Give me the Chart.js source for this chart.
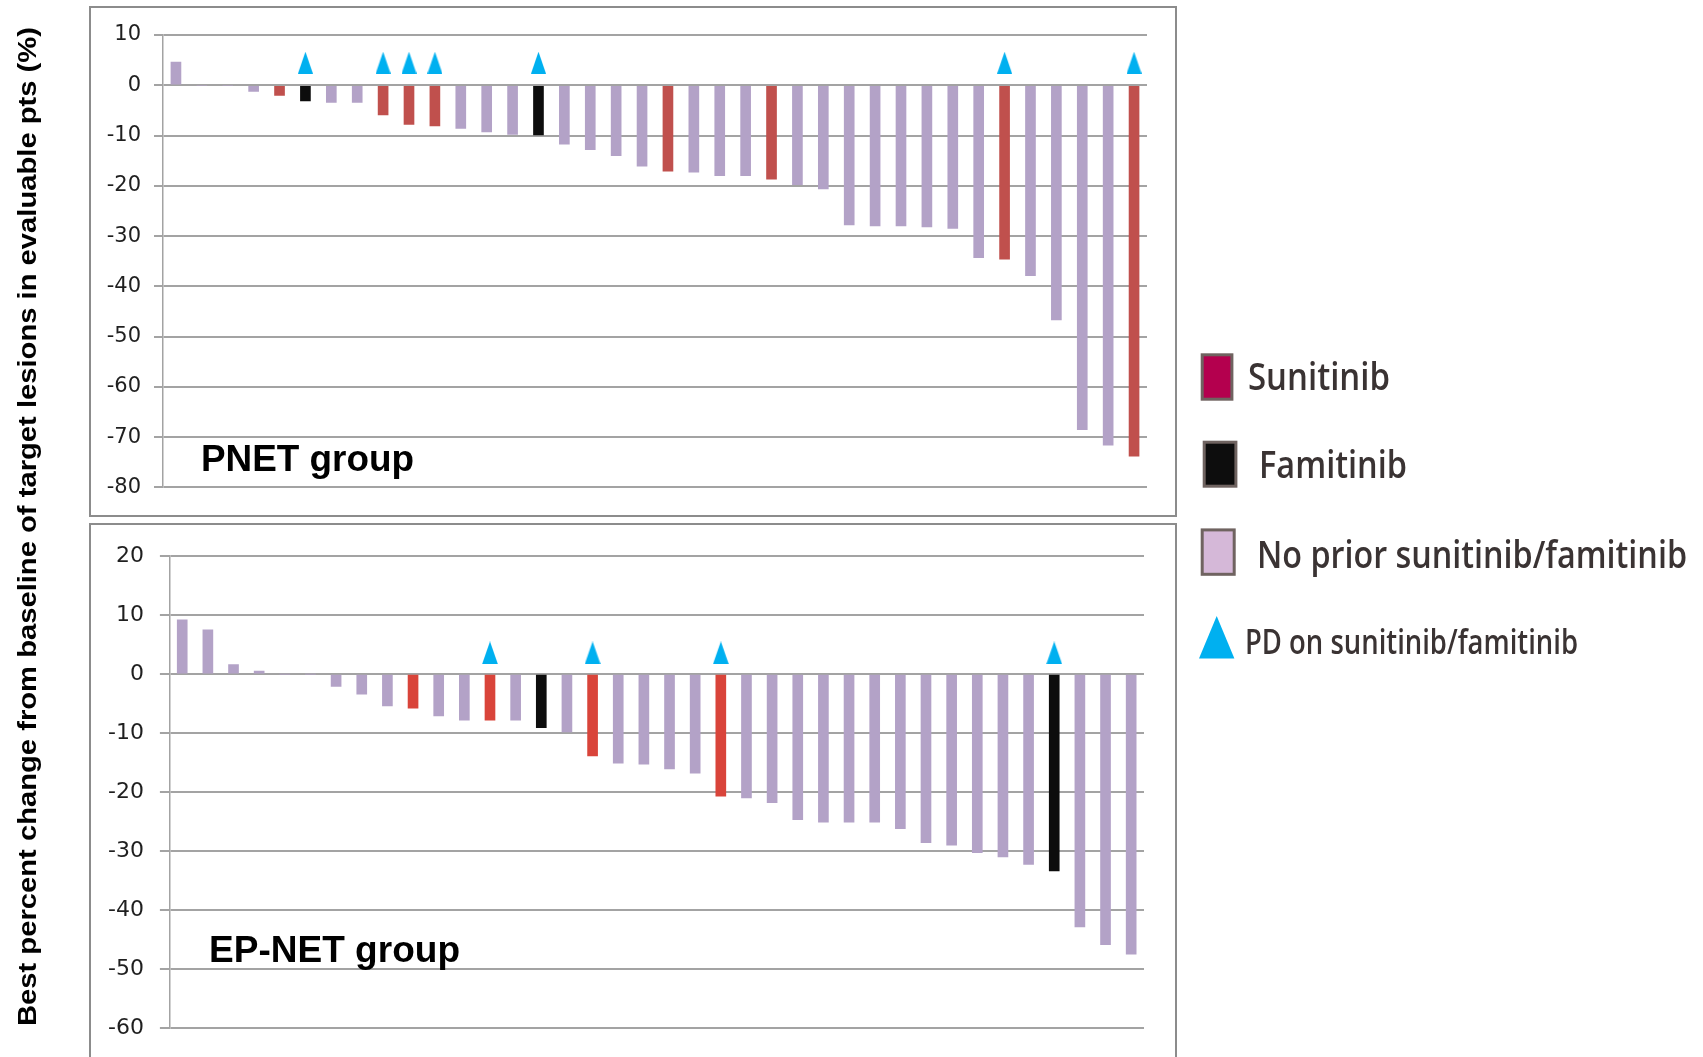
<!DOCTYPE html>
<html>
<head>
<meta charset="utf-8">
<script src="https://cdn.jsdelivr.net/npm/chart.js@4.4.1/dist/chart.umd.min.js"></script>
<style>
  html, body { margin: 0; padding: 0; background: #fff; width: 1703px; height: 1057px; overflow: hidden; position: relative; }
  .panel { position: absolute; box-sizing: border-box; border: 2.5px solid #8c8c8c; background: #fff; }
  canvas { position: absolute; display: block; }
</style>
</head>
<body>
<div class="panel" style="left:89px;top:6px;width:1088px;height:511px"></div>
<div class="panel" style="left:89px;top:523px;width:1088px;height:560px"></div>
<canvas id="pnet" width="1080" height="504" style="left:92px;top:9px"></canvas>
<canvas id="epnet" width="1080" height="530" style="left:92px;top:527px"></canvas>
<canvas id="overlay" width="1703" height="1057" style="left:0;top:0;pointer-events:none"></canvas>

<script>
// ---- PNET group: best % change per patient, sorted ----
const pnetChange = [4.6, 0, 0, -1.2, -2.0, -3.1, -3.4, -3.4, -5.9, -7.8, -8.1, -8.6, -9.3, -9.8, -9.9,
  -11.7, -12.8, -14.0, -16.1, -17.1, -17.3, -18.0, -18.0, -18.7, -19.8, -20.6, -27.8, -28.0, -28.0,
  -28.2, -28.5, -34.3, -34.6, -37.9, -46.7, -68.5, -71.6, -73.8];
// prior therapy: S = sunitinib, F = famitinib, N = none
const pnetPrior = ['N','N','N','N','S','F','N','N','S','S','S','N','N','N','F',
  'N','N','N','N','S','N','N','N','S','N','N','N','N','N',
  'N','N','N','S','N','N','N','N','S'];
// progressive disease on prior sunitinib/famitinib
const pnetPD = [0,0,0,0,0,1,0,0,1,1,1,0,0,0,1,
  0,0,0,0,0,0,0,0,0,0,0,0,0,0,
  0,0,0,1,0,0,0,0,1];
const pnetTicks = { min: -80, max: 10, step: 10 };

// ---- EP-NET group ----
const epnetChange = [9.2, 7.5, 1.6, 0.5, 0, 0, -2.1, -3.4, -5.4, -5.8, -7.1, -7.8, -7.8, -7.8, -9.1,
  -9.8, -13.9, -15.1, -15.3, -16.1, -16.8, -20.7, -21.0, -21.8, -24.7, -25.1, -25.1, -25.1, -26.2,
  -28.6, -29.0, -30.3, -31.0, -32.3, -33.4, -42.9, -45.9, -47.5];
const epnetPrior = ['N','N','N','N','N','N','N','N','N','S','N','N','S','N','F',
  'N','S','N','N','N','N','S','N','N','N','N','N','N','N',
  'N','N','N','N','N','F','N','N','N'];
const epnetPD = [0,0,0,0,0,0,0,0,0,0,0,0,1,0,0,
  0,1,0,0,0,0,1,0,0,0,0,0,0,0,
  0,0,0,0,0,1,0,0,0];
const epnetTicks = { min: -60, max: 20, step: 10 };

const legendItems = ['Sunitinib', 'Famitinib', 'No prior sunitinib/famitinib', 'PD on sunitinib/famitinib'];
const yTitle = 'Best percent change from baseline of target lesions in evaluable pts (%)';

// ---- styling ----
const PURPLE = '#B3A2C7', BLACK = '#0D0D0D', BLUE = '#00B0F0';
const GRID = '#a3a3a3';

function makeTriangle(w, h, color) {
  const c = document.createElement('canvas');
  c.width = w; c.height = h;
  const g = c.getContext('2d');
  g.fillStyle = color;
  g.beginPath();
  g.moveTo(w / 2, 0);
  g.lineTo(w, h);
  g.lineTo(0, h);
  g.closePath();
  g.fill();
  return c;
}

function buildChart(id, values, prior, pd, ticks, cfg) {
  const colors = { S: cfg.red, F: BLACK, N: PURPLE };
  return new Chart(document.getElementById(id), {
    type: 'bar',
    data: {
      labels: values.map((_, i) => 'Pt ' + (i + 1)),
      datasets: [
        {
          type: 'line',
          data: pd.map(f => (f ? cfg.markerLevel : null)),
          showLine: false,
          pointStyle: makeTriangle(cfg.triW, cfg.triH, BLUE),
          pointRadius: 10,
          order: 0
        },
        {
          type: 'bar',
          data: values,
          backgroundColor: prior.map(p => colors[p]),
          borderWidth: 0,
          barThickness: 10,
          order: 1
        }
      ]
    },
    options: {
      responsive: false,
      animation: false,
      devicePixelRatio: 1,
      layout: { padding: cfg.padding },
      plugins: { legend: { display: false }, tooltip: { enabled: false } },
      scales: {
        x: { display: false, offset: true },
        y: {
          min: ticks.min, max: ticks.max,
          ticks: {
            stepSize: ticks.step,
            padding: cfg.tickPad,
            color: '#1f1f1f',
            font: { family: '"DejaVu Sans", sans-serif', size: cfg.tickSize }
          },
          grid: { color: GRID, lineWidth: 2, tickLength: cfg.tickLen },
          border: { color: GRID, width: 1.5 },
          afterFit: s => { s.width = cfg.axisWidth; }
        }
      }
    }
  });
}

buildChart('pnet', pnetChange, pnetPrior, pnetPD, pnetTicks, {
  red: '#C0504D', markerLevel: 4.5, triW: 15, triH: 22,
  padding: { left: 0, right: 25, top: 26, bottom: 25.5 },
  axisWidth: 71, tickPad: 13, tickLen: 9, tickSize: 21
});

buildChart('epnet', epnetChange, epnetPrior, epnetPD, epnetTicks, {
  red: '#D9443A', markerLevel: 3.6, triW: 16, triH: 23,
  padding: { left: 0, right: 28, top: 26.6, bottom: 29 },
  axisWidth: 77.4, tickPad: 16, tickLen: 9.5, tickSize: 22
});

// ---- titles, group labels and shared legend ----
const ctx = document.getElementById('overlay').getContext('2d');

function fitText(text, x, y, width, font, color) {
  ctx.save();
  ctx.font = font;
  ctx.fillStyle = color;
  ctx.textAlign = 'left';
  ctx.textBaseline = 'alphabetic';
  const w = ctx.measureText(text).width;
  ctx.translate(x, y);
  ctx.scale(width / w, 1);
  ctx.fillText(text, 0, 0);
  ctx.restore();
}

// vertical axis title
ctx.save();
ctx.translate(36, 1026);
ctx.rotate(-Math.PI / 2);
fitText(yTitle, 0, 0, 999, 'bold 25px "Liberation Sans", Arial, sans-serif', '#000');
ctx.restore();

fitText('PNET group', 201, 471, 213, 'bold 36px "Liberation Sans", Arial, sans-serif', '#000');
fitText('EP-NET group', 209, 962, 251, 'bold 36px "Liberation Sans", Arial, sans-serif', '#000');

// legend swatches
function swatch(x0, y0, x1, y1, fill) {
  ctx.fillStyle = fill;
  ctx.strokeStyle = '#6f6360';
  ctx.lineWidth = 3;
  ctx.fillRect(x0 + 1.5, y0 + 1.5, x1 - x0 - 3, y1 - y0 - 3);
  ctx.strokeRect(x0 + 1.5, y0 + 1.5, x1 - x0 - 3, y1 - y0 - 3);
}
swatch(1200.7, 353.3, 1233.4, 400.7, '#B4004E');
swatch(1202.7, 440.7, 1237.4, 487.7, BLACK);
swatch(1200.7, 528.4, 1235.7, 575.8, '#D5B8D8');
ctx.fillStyle = BLUE;
ctx.beginPath();
ctx.moveTo(1216.7, 616);
ctx.lineTo(1234.4, 658.5);
ctx.lineTo(1199, 658.5);
ctx.closePath();
ctx.fill();

const LEG_COLOR = '#3a3333';
fitText(legendItems[0], 1248, 390, 142, '600 38px "Open Sans", sans-serif', LEG_COLOR);
fitText(legendItems[1], 1259, 478, 148, '600 38px "Open Sans", sans-serif', LEG_COLOR);
fitText(legendItems[2], 1257, 568, 430, '600 38px "Open Sans", sans-serif', LEG_COLOR);
fitText(legendItems[3], 1245, 653.5, 333, '600 35px "Open Sans", sans-serif', LEG_COLOR);
</script>
</body>
</html>
